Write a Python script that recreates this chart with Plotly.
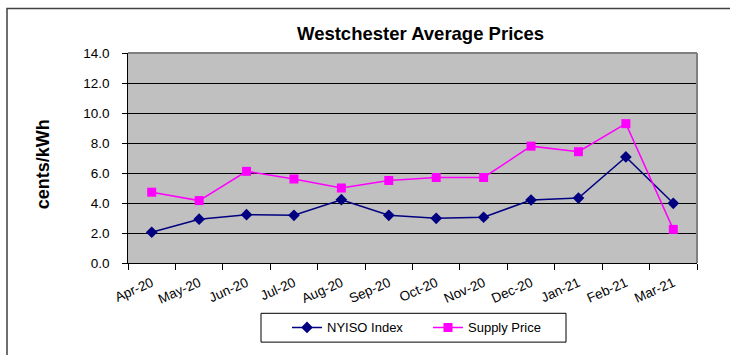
import plotly.graph_objects as go

months = ["Apr-20", "May-20", "Jun-20", "Jul-20", "Aug-20", "Sep-20",
          "Oct-20", "Nov-20", "Dec-20", "Jan-21", "Feb-21", "Mar-21"]
nyiso_index = [2.05, 2.92, 3.22, 3.18, 4.22, 3.18, 2.98, 3.05, 4.20, 4.33, 7.07, 3.98]
supply_price = [4.72, 4.16, 6.11, 5.60, 5.00, 5.50, 5.70, 5.70, 7.79, 7.42, 9.29, 2.24]

FONT = "Liberation Sans, Arial, sans-serif"

fig = go.Figure()
fig.add_trace(go.Scatter(
    x=months, y=nyiso_index, name="NYISO Index", mode="lines+markers",
    line=dict(color="#000080", width=1.5),
    marker=dict(symbol="diamond", size=9, color="#000080"),
))
fig.add_trace(go.Scatter(
    x=months, y=supply_price, name="Supply Price", mode="lines+markers",
    line=dict(color="#FF00FF", width=1.5),
    marker=dict(symbol="square", size=9, color="#FF00FF"),
))

W, H = 730, 355
L, R, T, B = 128, 33, 53, 87
pw, ph = W - L - R, H - T - B


def px(x):
    return (x - L) / pw


def py(y):
    return (H - B - y) / ph


fig.update_layout(
    width=W, height=H,
    margin=dict(l=L, r=R, t=T, b=B),
    paper_bgcolor="white",
    plot_bgcolor="#C0C0C0",
    font=dict(family=FONT, size=13, color="black"),
    showlegend=True,
    legend=dict(
        orientation="h", x=px(287), y=py(334), xanchor="left", yanchor="middle",
        borderwidth=0, bgcolor="rgba(0,0,0,0)",
        font=dict(size=13), itemwidth=30,
        entrywidthmode="pixels", entrywidth=96,
    ),
    xaxis=dict(
        type="category", tickson="boundaries", ticks="outside", ticklen=6,
        tickcolor="black", showline=True, linecolor="black", linewidth=1,
        showgrid=False, tickangle=-24, tickfont=dict(size=13.5),
        ticklabelstandoff=6, range=[-0.5, 11.5],
    ),
    yaxis=dict(
        range=[0, 14], dtick=2, tickformat=".1f", ticks="outside", ticklen=5,
        tickcolor="black", showline=True, linecolor="black", linewidth=1,
        showgrid=True, gridcolor="black", gridwidth=1, zeroline=False,
        tickfont=dict(size=13.5), ticklabelstandoff=6,
        ticksuffix="\u00a0",
    ),
    shapes=[
        # gray frame on the top and right of the plot area
        dict(type="line", xref="paper", yref="paper", x0=0, x1=1, y0=1, y1=1,
             line=dict(color="#808080", width=2)),
        dict(type="line", xref="paper", yref="paper", x0=1, x1=1, y0=0, y1=1,
             line=dict(color="#808080", width=2)),
        # outer chart border
        dict(type="rect", xref="paper", yref="paper",
             x0=px(7), x1=px(745), y0=py(7.5), y1=py(365),
             line=dict(color="#404040", width=1.5), layer="below"),
        # legend frame
        dict(type="rect", xref="paper", yref="paper",
             x0=px(261), x1=px(566), y0=py(319.5), y1=py(349),
             line=dict(color="black", width=1), fillcolor="white", layer="below"),
    ],
    annotations=[
        dict(text="<b>Westchester Average Prices</b>", xref="paper", yref="paper",
             x=px(420), y=py(33), xanchor="center", yanchor="middle",
             showarrow=False, font=dict(size=18.5, family=FONT)),
        dict(text="<b>cents/kWh</b>", xref="paper", yref="paper",
             x=px(43), y=py(167), xanchor="center", yanchor="middle",
             textangle=-90, showarrow=False, font=dict(size=18, family=FONT)),
    ],
)

fig.write_html("out.html")
